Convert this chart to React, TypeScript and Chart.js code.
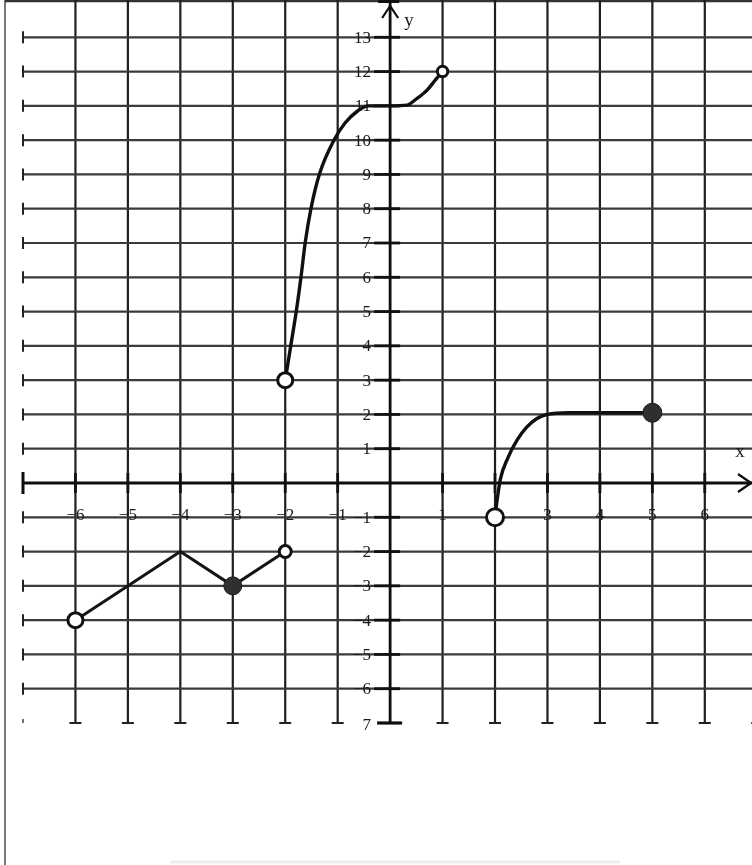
import React, { useEffect, useRef } from "react";
import { Chart, registerables } from "chart.js";

Chart.register(...registerables);

// Piece 1: broken line
const piece1X = [-6, -4, -3, -2];
const piece1Y = [-4, -2, -3, -2];

// Piece 2: steep curve with plateau at 11
const piece2X = [-2, -1.895, -1.79, -1.7, -1.62, -1.51, -1.35, -1.07, -0.86, -0.62, -0.42, 0, 0.32, 0.5, 0.7, 0.86, 1];
const piece2Y = [3, 4, 5, 6, 7, 8, 9, 10, 10.5, 10.85, 11, 11, 11.02, 11.2, 11.45, 11.75, 12];

// Piece 3: curve rising to 2 then flat
const piece3X = [2, 2.04, 2.1, 2.25, 2.42, 2.6, 2.8, 3, 3.4, 4, 5];
const piece3Y = [-1, -0.5, 0.1, 0.75, 1.25, 1.62, 1.88, 2, 2.05, 2.05, 2.05];

// Endpoints
const openX = [-6, -2, -2, 1, 2];
const openY = [-4, -2, 3, 12, -1];
const closedX = [-3, 5];
const closedY = [-3, 2.05];

// Axis ticks
const xTickValues = [-6, -5, -4, -3, -2, -1, 1, 2, 3, 4, 5, 6, 7];
const xTickLabels = ["−6", "−5", "−4", "−3", "−2", "−1", "1", "2", "3", "4", "5", "6", "7"];
const yTickValues = [13, 12, 11, 10, 9, 8, 7, 6, 5, 4, 3, 2, 1, -1, -2, -3, -4, -5, -6, -7];
const yTickLabels = ["13", "12", "11", "10", "9", "8", "7", "6", "5", "4", "3", "2", "1", "−1", "−2", "−3", "−4", "−5", "−6", "7"];
const xGridValues = [-6, -5, -4, -3, -2, -1, 1, 2, 3, 4, 5, 6, 7];
const yGridValues = [13, 12, 11, 10, 9, 8, 7, 6, 5, 4, 3, 2, 1, -1, -2, -3, -4, -5, -6];

const toPts = (xs: number[], ys: number[]) => xs.map((v, i) => ({ x: v, y: ys[i] }));

const paperPlugin = {
  id: "paperGrid",
  beforeDatasetsDraw(chart: any) {
    const { ctx, scales } = chart;
    const sx = scales.x;
    const sy = scales.y;
    const X = (v: number) => sx.getPixelForValue(v);
    const Y = (v: number) => sy.getPixelForValue(v);
    const W = chart.width;
    const H = chart.height;
    const line = (x1: number, y1: number, x2: number, y2: number, w: number, c: string) => {
      ctx.beginPath();
      ctx.moveTo(x1, y1);
      ctx.lineTo(x2, y2);
      ctx.lineWidth = w;
      ctx.strokeStyle = c;
      ctx.stroke();
    };
    ctx.save();
    ctx.lineCap = "butt";
    const yBottom = Y(-7);
    const xLeft = X(-7);
    const x0 = X(0);
    const y0 = Y(0);

    // page edges
    line(5, 0, 5, H, 1.6, "#555");
    line(5, 1, W, 1, 2.5, "#333");
    line(170, 862, 620, 862, 3, "#ececec");

    // vertical grid lines
    xGridValues.forEach((v) => {
      const px = X(v);
      line(px, 0, px, yBottom, 2.2, "#1e1e1e");
      line(px - 6, yBottom, px + 6, yBottom, 2, "#222");
    });
    // horizontal grid lines
    yGridValues.forEach((v) => {
      const py = Y(v);
      line(xLeft, py, W, py, 2.2, "#3a3a3a");
      line(xLeft, py - 6, xLeft, py + 6, 2, "#222");
    });
    line(xLeft, yBottom - 4, xLeft, yBottom, 1.5, "#444");

    // x axis
    line(xLeft, y0, W, y0, 2.8, "#0e0e0e");
    line(xLeft, y0 - 11, xLeft, y0 + 11, 3, "#0e0e0e");
    xTickValues.forEach((v) => {
      const px = X(v);
      line(px, y0 - 10, px, y0 + 10, 2.8, "#111");
    });
    // arrow
    ctx.beginPath();
    ctx.moveTo(W - 14, y0 - 9);
    ctx.lineTo(W - 1, y0);
    ctx.lineTo(W - 14, y0 + 9);
    ctx.lineWidth = 2.2;
    ctx.strokeStyle = "#0e0e0e";
    ctx.stroke();

    // y axis
    line(x0, 0, x0, yBottom, 2.8, "#0e0e0e");
    line(x0 - 13, yBottom, x0 + 12, yBottom, 3.2, "#0e0e0e");
    line(x0 - 12, 1, x0 + 9, 1, 4, "#111");
    yTickValues.forEach((v) => {
      if (v === -7) return;
      const py = Y(v);
      line(x0 - 16, py, x0 + 10, py, 2.8, "#111");
    });
    ctx.beginPath();
    ctx.moveTo(x0 - 8, 18);
    ctx.lineTo(x0, 6);
    ctx.lineTo(x0 + 8, 18);
    ctx.lineWidth = 2.2;
    ctx.strokeStyle = "#0e0e0e";
    ctx.stroke();

    // labels
    ctx.fillStyle = "#1a1a1a";
    ctx.font = "17px 'Liberation Serif', 'DejaVu Serif', serif";
    ctx.textBaseline = "middle";
    ctx.textAlign = "right";
    yTickValues.forEach((v, i) => {
      const py = Y(v) + (v === -7 ? 3 : 1);
      ctx.fillText(yTickLabels[i], x0 - 19, py);
    });
    ctx.textAlign = "center";
    xTickValues.forEach((v, i) => {
      ctx.fillText(xTickLabels[i], X(v), Y(-1) - 2);
    });
    ctx.font = "19px 'Liberation Serif', 'DejaVu Serif', serif";
    ctx.textAlign = "center";
    ctx.fillText("y", x0 + 19, 21);
    ctx.fillText("x", 740, 452);
    ctx.restore();
  },
};

export default function App() {
  const ref = useRef<HTMLCanvasElement | null>(null);
  useEffect(() => {
    document.body.style.margin = "0";
    const canvas = ref.current;
    if (!canvas) return;
    const chart = new Chart(canvas, {
      type: "scatter",
      data: {
        datasets: [
          {
            label: "open",
            data: toPts(openX, openY),
            showLine: false,
            pointRadius: [7.5, 6, 7.5, 5.2, 8.5],
            pointBorderWidth: 3,
            pointBackgroundColor: "#ffffff",
            pointBorderColor: "#111111",
            order: 0,
            clip: false,
          },
          {
            label: "closed",
            data: toPts(closedX, closedY),
            showLine: false,
            pointRadius: [9, 9.5],
            pointBorderWidth: 1,
            pointBackgroundColor: "#2f2f2f",
            pointBorderColor: "#1a1a1a",
            order: 0,
            clip: false,
          },
          {
            label: "piece1",
            data: toPts(piece1X, piece1Y),
            showLine: true,
            borderColor: "#141414",
            borderWidth: 3,
            pointRadius: 0,
            tension: 0,
            order: 1,
          },
          {
            label: "piece2",
            data: toPts(piece2X, piece2Y),
            showLine: true,
            borderColor: "#101010",
            borderWidth: 3.4,
            pointRadius: 0,
            cubicInterpolationMode: "monotone",
            order: 1,
          },
          {
            label: "piece3",
            data: toPts(piece3X, piece3Y),
            showLine: true,
            borderColor: "#101010",
            borderWidth: 3.4,
            pointRadius: 0,
            cubicInterpolationMode: "monotone",
            order: 1,
          },
        ],
      } as any,
      options: {
        animation: false,
        responsive: false,
        devicePixelRatio: 1,
        layout: { autoPadding: false, padding: { left: 23, right: 0, top: 3, bottom: 142 } },
        plugins: { legend: { display: false }, tooltip: { enabled: false } },
        scales: {
          x: { type: "linear", min: -7, max: 6.9, display: false },
          y: { type: "linear", min: -7, max: 14, display: false },
        },
        events: [],
      } as any,
      plugins: [paperPlugin],
    });
    return () => chart.destroy();
  }, []);
  return (
    <div style={{ width: 752, height: 865, background: "#fff" }}>
      <canvas ref={ref} width={752} height={865} style={{ display: "block" }} />
    </div>
  );
}
